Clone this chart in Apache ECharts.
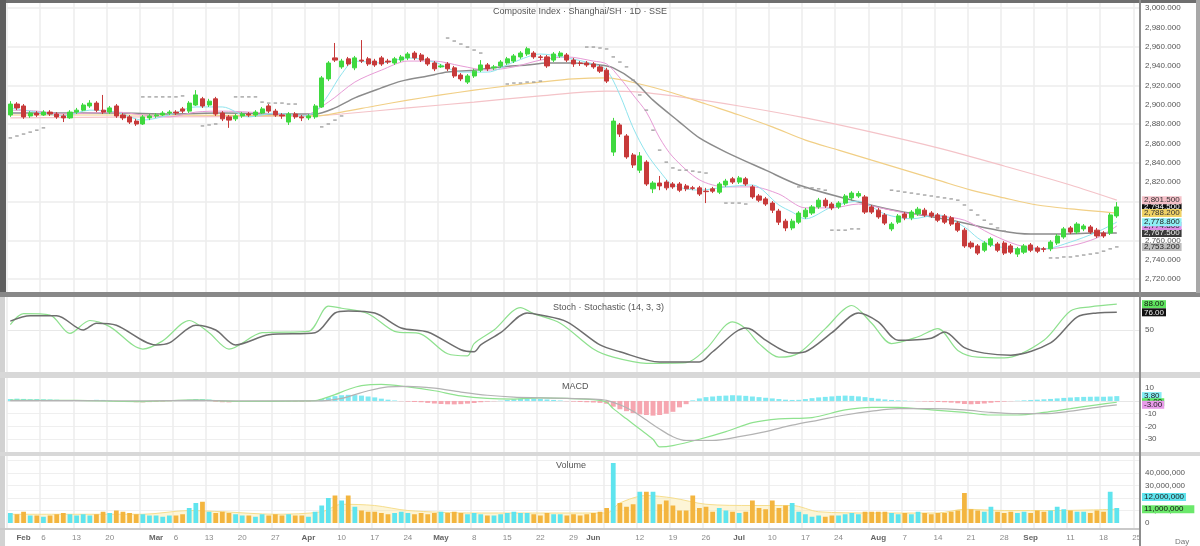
<!DOCTYPE html>
<html><head><meta charset="utf-8">
<script src="https://cdn.jsdelivr.net/npm/echarts@6/dist/echarts.min.js"></script>
<style>html,body{margin:0;padding:0;background:#fff}#c{width:1200px;height:546px}</style>
</head><body><div id="c"></div>
<script>
// ---------- data ----------
const START_DATE = '2023-01-30';
const EXTRA_SLOTS = 3;
const MONTHS = ['Jan','Feb','Mar','Apr','May','Jun','Jul','Aug','Sep','Oct','Nov','Dec'];

// [open, close, low, high]
const ohlc = [
[2889.5,2900.8,2887.5,2903.8],[2900.8,2896.8,2894.5,2902.8],[2898.8,2887.5,2885.5,2900.8],[2888.5,2891.5,2886.5,2893.5],
[2891.5,2889.5,2887.5,2893.5],[2889.5,2892.5,2888.5,2894.5],[2892.5,2890.5,2888.5,2894.5],[2890.5,2887.5,2885.5,2892.5],
[2888.5,2886.5,2882.2,2890.5],[2886.5,2892.5,2885.5,2894.5],[2892.5,2894.5,2890.5,2896.8],[2894.5,2899.8,2893.5,2901.8],
[2898.8,2901.8,2896.8,2904.8],[2901.8,2894.5,2892.5,2903.8],[2894.5,2892.5,2890.5,2910.2],[2892.5,2896.8,2890.5,2898.8],
[2898.8,2888.5,2886.5,2900.8],[2889.5,2886.5,2884.2,2891.5],[2887.5,2882.2,2880.2,2889.5],[2883.2,2880.2,2878.2,2885.5],
[2880.2,2887.5,2879.2,2889.5],[2886.5,2888.5,2884.2,2890.5],[2888.5,2889.5,2886.5,2891.5],[2889.5,2891.5,2888.5,2893.5],
[2891.5,2892.5,2889.5,2894.5],[2892.5,2891.5,2889.5,2894.5],[2895.8,2893.5,2891.5,2897.8],[2893.5,2901.8,2891.5,2903.8],
[2899.8,2910.2,2898.8,2915.2],[2906.2,2898.8,2896.8,2908.2],[2899.8,2903.8,2897.8,2906.2],[2906.2,2890.5,2888.5,2908.2],
[2891.5,2885.5,2883.2,2893.5],[2887.5,2884.2,2876.2,2889.5],[2885.5,2888.5,2883.2,2890.5],[2888.5,2890.5,2886.5,2892.5],
[2890.5,2889.5,2887.5,2892.5],[2889.5,2892.5,2887.5,2894.5],[2891.5,2895.8,2890.5,2897.8],[2898.8,2893.5,2891.5,2900.8],
[2893.5,2889.5,2887.5,2895.8],[2889.5,2888.5,2885.5,2891.5],[2882.2,2890.5,2879.2,2892.5],[2890.5,2887.5,2885.5,2892.5],
[2887.5,2886.5,2883.2,2889.5],[2886.5,2888.5,2884.2,2890.5],[2887.5,2898.8,2885.5,2900.8],[2897.8,2927.8,2896.8,2929.8],
[2926.8,2943.2,2924.5,2945.2],[2948.5,2946.2,2944.2,2963.9],[2939.2,2945.2,2937.2,2947.5],[2947.5,2942.2,2940.2,2949.5],
[2938.2,2948.5,2935.8,2950.5],[2946.2,2945.2,2943.2,2966.9],[2947.5,2942.2,2940.2,2949.5],[2945.2,2941.2,2939.2,2947.5],
[2948.5,2942.2,2940.2,2950.5],[2945.2,2944.2,2942.2,2947.5],[2943.2,2947.5,2941.2,2949.5],[2946.2,2949.5,2944.2,2951.5],
[2948.5,2952.5,2946.2,2954.5],[2953.5,2948.5,2946.2,2955.5],[2951.5,2946.2,2944.2,2953.5],[2947.5,2942.2,2940.2,2949.5],
[2943.2,2937.2,2934.8,2945.2],[2939.2,2940.2,2938.2,2942.2],[2942.2,2937.2,2934.8,2944.2],[2938.2,2929.8,2927.8,2940.2],
[2930.8,2926.8,2924.5,2932.8],[2923.5,2929.8,2921.5,2931.8],[2929.8,2934.8,2927.8,2937.2],[2935.8,2941.2,2933.8,2946.2],
[2941.2,2937.2,2934.8,2943.2],[2938.2,2939.2,2935.8,2941.2],[2940.2,2944.2,2938.2,2946.2],[2943.2,2947.5,2941.2,2949.5],
[2945.2,2950.5,2943.2,2952.5],[2949.5,2953.5,2947.5,2955.5],[2952.5,2957.9,2950.5,2959.9],[2953.5,2949.5,2947.5,2955.5],
[2949.5,2949.0,2946.2,2951.5],[2949.5,2940.2,2938.2,2951.5],[2946.2,2952.5,2944.2,2954.5],[2950.5,2953.5,2948.5,2955.5],
[2951.5,2946.2,2944.2,2953.5],[2946.2,2942.2,2939.2,2948.5],[2943.2,2942.7,2940.2,2945.2],[2943.2,2941.2,2939.2,2945.2],
[2942.2,2939.2,2937.2,2944.2],[2939.2,2934.8,2932.8,2941.2],[2935.8,2924.5,2922.5,2938.2],[2851.2,2883.2,2847.2,2886.5],
[2879.2,2869.8,2866.8,2881.2],[2867.8,2846.2,2844.2,2869.8],[2848.2,2837.8,2834.8,2850.2],[2832.5,2847.2,2829.5,2851.2],
[2840.8,2818.2,2816.2,2842.8],[2813.2,2819.2,2808.8,2821.2],[2819.2,2816.2,2811.8,2826.5],[2820.2,2814.2,2811.8,2822.2],
[2818.2,2815.2,2813.2,2820.2],[2818.2,2811.8,2809.8,2820.2],[2816.2,2813.2,2810.8,2818.2],[2814.2,2813.7,2811.8,2816.2],
[2814.2,2807.8,2805.8,2816.2],[2810.8,2810.3,2798.5,2814.2],[2813.2,2810.8,2808.8,2815.2],[2809.8,2818.2,2807.8,2820.2],
[2817.2,2821.2,2815.2,2823.5],[2823.5,2820.2,2818.2,2825.5],[2820.2,2824.5,2818.2,2826.5],[2823.5,2818.2,2816.2,2825.5],
[2815.2,2804.8,2802.8,2817.2],[2805.8,2801.5,2799.5,2807.8],[2802.8,2797.5,2795.5,2804.8],[2798.5,2791.2,2788.2,2800.5],
[2790.2,2778.8,2775.8,2792.5],[2779.8,2772.8,2769.5,2782.2],[2772.8,2779.8,2770.5,2782.2],[2778.8,2788.2,2776.8,2790.2],
[2784.2,2791.2,2782.2,2793.5],[2788.2,2794.5,2786.2,2796.5],[2794.5,2801.5,2792.5,2803.8],[2801.5,2795.5,2793.5,2803.8],
[2797.5,2793.5,2791.2,2799.5],[2794.5,2798.5,2792.5,2800.5],[2798.5,2805.8,2796.5,2807.8],[2803.8,2808.8,2801.5,2810.8],
[2805.8,2808.3,2803.8,2810.8],[2804.8,2789.2,2787.2,2806.8],[2794.5,2789.2,2787.2,2796.5],[2791.2,2784.2,2782.2,2793.5],
[2786.2,2777.8,2775.8,2788.2],[2771.8,2776.8,2769.5,2778.8],[2778.8,2785.2,2776.8,2787.2],[2787.2,2783.2,2780.8,2789.2],
[2783.2,2789.2,2780.8,2791.2],[2787.2,2792.2,2785.2,2794.5],[2791.2,2786.2,2784.2,2793.5],[2788.2,2785.2,2783.2,2790.2],
[2786.2,2780.8,2778.8,2788.2],[2785.2,2778.8,2776.8,2787.2],[2783.2,2776.8,2774.8,2785.2],[2777.8,2770.5,2768.5,2779.8],
[2770.5,2754.2,2752.2,2772.8],[2757.2,2753.2,2751.2,2759.2],[2754.2,2746.8,2744.8,2756.2],[2749.8,2757.2,2747.8,2759.2],
[2755.2,2761.5,2753.2,2763.5],[2756.2,2749.8,2747.8,2758.2],[2757.2,2746.8,2744.8,2759.2],[2754.2,2747.8,2745.8,2756.2],
[2745.8,2751.2,2742.8,2753.2],[2747.8,2754.2,2745.8,2756.2],[2755.2,2749.8,2747.8,2757.2],[2752.2,2748.8,2746.8,2754.2],
[2751.2,2750.7,2747.8,2753.2],[2751.2,2758.2,2748.8,2760.2],[2757.2,2764.5,2755.2,2766.5],[2763.5,2771.8,2761.5,2773.8],
[2772.8,2768.5,2766.5,2774.8],[2768.5,2776.8,2766.5,2778.8],[2771.8,2774.8,2769.5,2776.8],[2773.8,2768.5,2766.5,2775.8],
[2770.5,2764.5,2762.5,2772.8],[2767.5,2764.5,2762.5,2769.5],[2767.5,2786.2,2765.5,2788.2],[2785.2,2794.5,2783.2,2799.5]
];

// moving averages, read at knots [candle index, value]
const ma5 = [[0,2896.8],[4,2892.5],[8,2888.5],[12,2894.5],[16,2892.5],[20,2884.2],[24,2889.5],[28,2897.8],[32,2897.8],[36,2887.5],[40,2891.5],[44,2888.5],[46,2892.5],[48,2910.2],[50,2931.8],[52,2945.2],[56,2943.2],[60,2948.5],[64,2944.2],[68,2933.8],[72,2933.8],[76,2944.2],[80,2952.5],[84,2948.5],[88,2942.2],[90,2935.8],[92,2910.2],[94,2876.2],[96,2850.2],[98,2831.5],[100,2817.2],[104,2811.8],[108,2815.2],[112,2817.2],[116,2796.5],[118,2789.2],[120,2782.2],[124,2794.5],[128,2800.5],[132,2787.2],[136,2782.2],[140,2786.2],[144,2773.8],[146,2762.5],[148,2755.2],[152,2751.2],[156,2751.2],[160,2758.2],[164,2768.5],[167,2778.8]];
const ma10 = [[0,2894.5],[4,2893.5],[8,2890.5],[12,2891.5],[16,2892.5],[20,2889.5],[24,2887.5],[28,2892.5],[32,2893.5],[36,2892.5],[40,2890.5],[44,2888.5],[48,2902.8],[52,2923.5],[56,2935.8],[60,2945.2],[64,2945.2],[68,2940.2],[72,2935.8],[76,2939.2],[80,2946.2],[84,2949.5],[88,2945.2],[90,2942.2],[92,2927.8],[94,2910.2],[96,2892.5],[98,2865.8],[100,2846.2],[104,2822.5],[108,2815.2],[112,2815.2],[116,2807.8],[120,2793.5],[124,2793.5],[128,2797.5],[132,2792.5],[136,2787.2],[140,2785.2],[144,2780.8],[148,2766.5],[152,2755.2],[156,2751.2],[160,2754.2],[164,2762.5],[167,2774.8]];
const ma20 = [[0,2891.5],[8,2891.5],[16,2891.5],[24,2890.5],[32,2891.5],[40,2890.5],[46,2890.5],[49,2896.8],[52,2907.2],[56,2917.5],[59,2924.5],[63,2929.8],[66,2933.8],[70,2935.8],[74,2939.2],[78,2941.2],[81,2943.2],[85,2943.2],[89,2941.2],[91,2938.2],[94,2925.5],[97,2904.8],[101,2882.2],[104,2865.8],[108,2851.2],[114,2832.5],[119,2817.2],[127,2801.5],[134,2790.2],[142,2780.8],[149,2770.5],[154,2766.5],[159,2766.5],[164,2767.5],[167,2767.5]];
const ma50 = [[0,2889.5],[20,2889.5],[46,2888.5],[50,2892.5],[55,2898.8],[60,2904.8],[65,2910.2],[70,2915.2],[75,2919.5],[80,2923.5],[85,2926.8],[90,2927.8],[95,2921.5],[100,2912.2],[105,2900.8],[110,2889.5],[115,2877.2],[120,2863.5],[125,2853.2],[130,2842.8],[135,2832.5],[140,2822.2],[145,2811.8],[150,2803.8],[155,2796.5],[160,2792.5],[167,2788.2]];
const ma100 = [[0,2886.5],[20,2887.5],[46,2888.5],[50,2890.5],[60,2896.8],[70,2902.8],[80,2909.2],[90,2914.2],[95,2913.2],[100,2909.2],[110,2898.8],[120,2886.5],[130,2871.8],[140,2855.5],[150,2836.8],[160,2817.2],[167,2801.5]];

// parabolic SAR dots [candle index, value]
const sar = [[0,2865.8],[1,2867.8],[2,2869.8],[3,2871.8],[4,2873.8],[5,2876.2],
[20,2908.2],[21,2908.2],[22,2908.2],[23,2908.2],[24,2908.2],[25,2908.2],[26,2909.2],
[29,2878.2],[30,2879.2],[31,2880.2],[34,2908.2],[35,2908.2],[36,2908.2],[37,2908.2],
[38,2902.8],[39,2901.8],[40,2901.8],[41,2901.8],[42,2900.8],[43,2900.8],
[47,2877.2],[48,2880.2],[49,2884.2],[50,2888.5],
[66,2969.0],[67,2965.9],[68,2962.8],[69,2959.7],[70,2956.6],[71,2953.5],
[75,2921.5],[76,2922.5],[77,2922.5],[78,2923.5],[79,2923.5],[80,2924.5],
[87,2959.7],[88,2959.7],[89,2958.7],[90,2957.7],
[91,2949.5],[92,2944.2],[93,2939.2],[94,2925.5],[95,2910.2],[96,2894.5],[97,2873.8],[98,2853.2],[99,2840.8],[100,2834.8],[101,2832.5],[102,2832.5],[103,2831.5],[104,2830.5],[105,2829.5],
[108,2798.5],[109,2798.5],[110,2798.5],[111,2797.5],
[119,2815.2],[120,2814.2],[121,2814.2],[122,2813.2],[123,2811.8],
[124,2770.5],[125,2770.5],[126,2770.5],[127,2771.8],[128,2771.8],
[133,2811.8],[134,2810.8],[135,2809.8],[136,2808.8],[137,2807.8],[138,2806.8],[139,2805.8],[140,2804.8],[141,2803.8],[142,2802.8],[143,2801.5],
[144,2796.5],[145,2791.2],[146,2786.2],[147,2780.8],[148,2776.8],[149,2772.8],[150,2769.5],
[157,2741.8],[158,2741.8],[159,2742.8],[160,2742.8],[161,2743.8],[162,2744.8],[163,2745.8],[164,2746.8],[165,2748.8],[166,2751.2],[167,2753.2]];

// stochastic %K and %D, knots
const stochK = [[0,58],[2,74],[6,72],[9,45],[12,64],[15,55],[20,22],[23,34],[27,64],[30,46],[33,22],[38,46],[45,48],[48,85],[50,82],[54,74],[58,48],[62,44],[66,15],[69,12],[70,30],[73,50],[77,83],[79,74],[83,60],[88,22],[91,10],[96,1],[102,2],[105,22],[109,62],[111,52],[113,30],[116,10],[119,16],[123,52],[127,86],[130,60],[133,30],[137,40],[140,52],[143,20],[146,10],[150,9],[156,35],[160,78],[163,84],[167,88]];
const stochD = [[0,63],[3,71],[7,71],[11,50],[13,60],[16,57],[22,28],[24,31],[28,57],[31,50],[34,28],[39,43],[46,46],[49,75],[51,78],[55,75],[59,53],[63,47],[68,21],[70,18],[71,28],[74,46],[78,75],[80,72],[84,62],[89,28],[92,18],[98,3],[104,3],[106,18],[111,53],[112,50],[114,35],[118,16],[120,18],[124,46],[128,75],[131,62],[134,35],[139,38],[141,47],[144,24],[147,16],[151,13],[157,31],[161,69],[164,75],[167,76]];

// MACD line, signal line (knots) and histogram (per candle)
const macdLine = [[0,0.6],[10,0.4],[20,-0.5],[28,0.8],[34,-0.4],[46,0.2],[47,1.5],[49,5],[51,9],[53,12],[56,13],[60,11],[64,8],[68,4],[72,2],[76,1.5],[80,2.5],[84,2],[88,1],[90,-1],[91,-6],[93,-14],[95,-22],[97,-30],[98,-36],[100,-35],[104,-30],[108,-24],[112,-17],[116,-14],[121,-13],[126,-7],[130,-5],[134,-5],[139,-7],[144,-9],[148,-11],[152,-11],[156,-9],[160,-6],[164,-3],[167,-1]];
const macdSignal = [[0,0.3],[10,0.3],[20,0],[28,0.4],[34,0],[46,0],[48,0.5],[50,2],[52,5],[54,8],[57,11],[60,11.5],[64,10],[68,7],[72,4.5],[76,3],[80,2.5],[84,2],[88,1.5],[90,0.5],[92,-3],[94,-8],[96,-15],[98,-22],[100,-28],[102,-31],[106,-31],[110,-28],[114,-24],[118,-19],[122,-15],[126,-11],[130,-8],[134,-6],[139,-6],[144,-7],[148,-9],[152,-10],[156,-10],[160,-8],[164,-5],[167,-3]];
const macdHist = [1.5,1.8,1.6,1.4,1.5,1.3,1.2,1.0, 0.6,0.5,0.4,0.5,0.6,0.9,0.8, 0.3,-0.2,-0.4, -0.8,-1.0,-1.1,-0.9,-0.7,-0.5, -0.2,0.2,0.4, 1.0,1.5,1.4,1.1, -0.6,-1.0,-1.1,-0.8,
-0.5,-0.4,-0.3,-0.2,-0.3,-0.4,-0.5,-0.5,-0.6,-0.6,-0.4,0.2, 1.5,2.8,3.8,4.5,4.8,4.6,4.2,3.5,2.8, 1.8,1.0,0.4,-0.2,-0.5,-0.8,-1.0,
-1.5,-2.0,-2.4,-2.6,-2.7,-2.5,-2.1, -1.6,-1.0,-0.5,-0.2,0.2, 0.8,1.3,1.8,2.0,1.9,1.6,1.2, 0.8,0.4,-0.2,-0.5,-0.8,-1.0,-1.2,-1.5,-2.2,
-4.5,-6.5,-8.0,-9.5,-10.5,-11.0,-11.5,-11.0,-10.0, -8.5,-5.0,-2.5,0.5,2.0,3.0,3.5,4.0,4.2,4.5,4.3,4.0,3.5,3.0, 2.5,2.0,1.5,1.0,0.8,0.9,1.5,
2.2,2.8,3.2,3.6,4.0,4.2,4.0,3.6,3.0,2.4, 1.8,1.2,0.8,0.5,0.3,0.1,-0.2,-0.4,-0.6,-0.8,-1.0,-1.3, -1.8,-2.4,-2.6,-2.4,-2.0,
-1.4,-0.9,-0.5,-0.2,0.2,0.5,0.8,1.0,1.3,1.6, 2.0,2.4,2.7,3.0,3.2,3.3,3.4,3.3,3.5,3.8];

// volume in millions per candle, and its moving average (knots)
const volumeM = [8,7,9,6,6,5,6,7,8,7, 6,7,6,7,9,8,10,9,8,7, 7,6,6,5,6,6,7,12,16,17, 9,8,9,8,7,6,6,5,7,6, 7,6,7,6,6,5,9,
14,20,22,18,22,13,10,9,9, 8,7,8,9,8,7,8,7,8,9, 8,9,8,7,8,7,6,6,7,8, 9,8,8,7,6,8,7,7,6,7, 6,7,8,9,12,
48,16,13,15,25,25,25,15,18,14,10, 10,22,12,13,9,12,10,9,8,9, 18,12,11,18,12,14,16,9,7,5, 6,5,6,6,7,8,7,9,9,9,
9,8,7,8,7,9,8,7,8,8, 9,10,24,11,10,9,13,9,8,9, 8,9,8,10,9,10,13,11,10,9, 9,8,10,9,25,12];
const volumeMA = [[0,7],[20,7],[27,10],[32,9],[40,7],[47,9],[50,15],[55,14],[60,10],[70,8],[80,8],[90,8],[92,16],[96,22],[100,20],[105,15],[112,14],[118,14],[122,9],[130,8],[140,8],[144,11],[150,10],[158,10],[167,11]];

// ---------- categories ----------
const dates = [];
(function(){ let d = new Date(START_DATE + 'T00:00:00Z');
  while (dates.length < ohlc.length + EXTRA_SLOTS) {
    const wd = d.getUTCDay();
    if (wd !== 0 && wd !== 6) dates.push(d.toISOString().slice(0,10));
    d.setUTCDate(d.getUTCDate() + 1);
  }})();
const isMonthStart = dates.map((d,i) => i > 0 && d.slice(5,7) !== dates[i-1].slice(5,7));
const isMonday = dates.map(d => new Date(d + 'T00:00:00Z').getUTCDay() === 1);
const showLbl = dates.map((d,i) => {
  if (isMonthStart[i]) return true;
  if (!isMonday[i]) return false;
  for (let k = i-2; k <= i+2; k++) if (isMonthStart[k]) return false;
  return true;
});

// ---------- styling ----------
const FONT = 'Liberation Sans';
const UP = '#3fd93f', DOWN = '#c73a3a';
const C = {ma5:'#8fe4ee', ma10:'#e79bd6', ma20:'#8c8c8c', ma50:'#f1cf86', ma100:'#f4c3c8'};
const fmtPrice = v => v.toLocaleString('en-US',{minimumFractionDigits:3, maximumFractionDigits:3});
const fmtVol = v => (v*1e6).toLocaleString('en-US');
const last = a => a[a.length-1];
function tag(value, bg, fg, text, offsetY){
  return {silent:true, symbol:'none', animation:false,
    lineStyle:{color:'rgba(0,0,0,0)', width:0, opacity:1},
    label:{show:true, position:'end', distance:2, formatter:text, backgroundColor:bg, color:fg,
      fontSize:8, lineHeight:8, padding:[0,2], fontFamily:FONT, offset:[0, offsetY||0]},
    data:[{yAxis:value}]};
}
function knotLine(name, data, color, xi, width, extra){
  return Object.assign({name, type:'line', xAxisIndex:xi, yAxisIndex:xi, data, smooth:0.3,
    symbol:'none', lineStyle:{color, width:width||1}, z:3}, extra||{});
}
const grids = [
  {left:7, right:60, top:3, bottom:18},
  {left:7, right:60, top:3, height:295.4},
  {left:7, right:60, top:296, height:68},
  {left:7, right:60, top:378, height:74},
  {left:7, right:60, top:456, height:67}
];
const xAxes = grids.map((g,i) => i === 0 ? {
  type:'category', gridIndex:0, data:dates, boundaryGap:true,
  axisLine:{show:false}, axisTick:{show:false},
  axisLabel:{interval:(idx)=>showLbl[idx], fontSize:8, color:'#8a8a8a', margin:6, fontFamily:FONT,
    formatter:(v,idx)=> isMonthStart[idx] ? '{m|' + MONTHS[+v.slice(5,7)-1] + '}' : String(+v.slice(8,10)),
    rich:{m:{fontWeight:'bold', color:'#666', fontSize:8, fontFamily:FONT}}},
  splitLine:{show:true, interval:(idx)=>isMonday[idx], lineStyle:{color:'#ededed', width:1.5}}
} : {type:'category', gridIndex:i, data:dates, boundaryGap:true, show:false});

const axisLbl = (extra) => Object.assign({fontSize:8, color:'#555', fontFamily:FONT, margin:5}, extra);
const yAxes = [
  {type:'value', gridIndex:0, show:false},
  {type:'value', gridIndex:1, position:'right', min:2700, max:3005.2, interval:20,
    axisLine:{show:false}, axisTick:{show:false},
    axisLabel:axisLbl({formatter:fmtPrice, showMinLabel:false, showMaxLabel:false}),
    splitLine:{show:true, lineStyle:{color:['rgba(0,0,0,0)','#ececec'], width:1.5}}},
  {type:'value', gridIndex:2, position:'right', min:0, max:100, interval:50,
    axisLine:{show:false}, axisTick:{show:false},
    axisLabel:axisLbl({showMinLabel:false, showMaxLabel:false}),
    splitLine:{show:true, lineStyle:{color:['rgba(0,0,0,0)','#e8e8e8','rgba(0,0,0,0)']}}},
  {type:'value', gridIndex:3, position:'right', min:-40, max:18, interval:10,
    axisLine:{show:false}, axisTick:{show:false},
    axisLabel:axisLbl({showMinLabel:false, showMaxLabel:false}),
    splitLine:{show:true, lineStyle:{color:['rgba(0,0,0,0)','#efefef','#efefef','#efefef','#e6e6e6','rgba(0,0,0,0)','rgba(0,0,0,0)']}}},
  {type:'value', gridIndex:4, position:'right', min:0, max:53.6, interval:10,
    axisLine:{show:false}, axisTick:{show:false},
    axisLabel:axisLbl({showMaxLabel:false, formatter:v => v >= 50 ? '' : fmtVol(v)}),
    splitLine:{show:true, lineStyle:{color:['rgba(0,0,0,0)','#efefef','#efefef','#efefef','#efefef','#efefef','rgba(0,0,0,0)']}}}
];

const lastClose = last(ohlc)[1];
const series = [
  {name:'Price', type:'candlestick', xAxisIndex:1, yAxisIndex:1, data:ohlc, barWidth:'70%', z:5,
    itemStyle:{color:UP, color0:DOWN, borderColor:UP, borderColor0:DOWN, borderWidth:1},
    markLine:tag(lastClose, '#111', '#fff', fmtPrice(lastClose))},
  knotLine('MA100', ma100, C.ma100, 1, 1.2, {markLine:tag(last(ma100)[1], '#f4c0c8', '#333', fmtPrice(last(ma100)[1]))}),
  knotLine('MA50', ma50, C.ma50, 1, 1.2, {markLine:tag(last(ma50)[1], '#f0d266', '#333', fmtPrice(last(ma50)[1]))}),
  knotLine('MA20', ma20, C.ma20, 1, 1.5, {markLine:tag(last(ma20)[1], '#3a3a3a', '#eee', fmtPrice(last(ma20)[1]))}),
  knotLine('MA10', ma10, C.ma10, 1, 1, {markLine:tag(last(ma10)[1], '#dc8ee6', '#222', fmtPrice(last(ma10)[1]))}),
  knotLine('MA5', ma5, C.ma5, 1, 1, {markLine:tag(last(ma5)[1], '#8ff0f4', '#222', fmtPrice(last(ma5)[1]))}),
  {name:'SAR', type:'scatter', xAxisIndex:1, yAxisIndex:1, data:sar, symbol:'rect', symbolSize:[3.5,1.6],
    itemStyle:{color:'#9a9a9a'}, z:4,
    markLine:tag(last(sar)[1], '#bdbdbd', '#222', fmtPrice(last(sar)[1]))},
  knotLine('%K', stochK, '#8ee08e', 2, 1.2, {markLine:tag(last(stochK)[1], '#5fe35f', '#111', last(stochK)[1].toFixed(2))}),
  knotLine('%D', stochD, '#6e6e6e', 2, 1.5, {markLine:tag(last(stochD)[1], '#111', '#eee', last(stochD)[1].toFixed(2))}),
  {name:'Hist', type:'bar', xAxisIndex:3, yAxisIndex:3, barWidth:'75%', z:2,
    data:macdHist.map(v => ({value:v, itemStyle:{color: v >= 0 ? '#7fe9f2' : '#f6a6b0'}})),
    markLine:tag(last(macdHist), '#86ecf4', '#222', last(macdHist).toFixed(2))},
  knotLine('MACD', macdLine, '#8fe28f', 3, 1.2, {markLine:tag(last(macdLine)[1], '#5fe35f', '#111', last(macdLine)[1].toFixed(2))}),
  knotLine('Signal', macdSignal, '#b3b3b3', 3, 1.2, {markLine:tag(last(macdSignal)[1], '#e79be9', '#222', last(macdSignal)[1].toFixed(2))}),
  {name:'VolMA', type:'line', xAxisIndex:4, yAxisIndex:4, data:volumeMA, smooth:0.3, symbol:'none', z:1,
    lineStyle:{color:'#f6de8e', width:1}, areaStyle:{color:'rgba(251,230,150,0.55)'},
    markLine:tag(last(volumeMA)[1], '#6be86b', '#111', fmtVol(last(volumeMA)[1]) + '    ')},
  {name:'Volume', type:'bar', xAxisIndex:4, yAxisIndex:4, barWidth:'72%', z:2,
    data:volumeM.map((v,i) => ({value:v, itemStyle:{color: ohlc[i][1] >= ohlc[i][0] ? '#5fe4ee' : '#f3b53f'}})),
    markLine:tag(last(volumeM), '#5fe4ee', '#222', fmtVol(last(volumeM)), -11)}
];

const titleStyle = {fontSize:9, color:'#555', fontWeight:'normal', fontFamily:FONT};
const option = {
  animation:false,
  backgroundColor:'#ffffff',
  title:[
    {text:'Composite Index · Shanghai/SH · 1D · SSE', left:488, top:2, textStyle:titleStyle},
    {text:'Stoch · Stochastic (14, 3, 3)', left:548, top:298, textStyle:titleStyle},
    {text:'MACD', left:557, top:377, textStyle:titleStyle},
    {text:'Volume', left:551, top:456, textStyle:titleStyle},
    {text:'SH 1D', left:12, top:284, textStyle:{fontSize:7, color:'#fff', backgroundColor:'#777', padding:[1,3], fontFamily:FONT}},
    {text:'Day', left:1170, top:533, textStyle:{fontSize:8, color:'#777', fontWeight:'normal', fontFamily:FONT}}
  ],
  grid:grids, xAxis:xAxes, yAxis:yAxes, series,
  graphic:[
    {type:'rect', z:100, shape:{x:0,y:0,width:1200,height:3}, style:{fill:'#6f6f6f'}},
    {type:'rect', z:100, shape:{x:0,y:0,width:6,height:293}, style:{fill:'#5f5f5f'}},
    {type:'rect', z:100, shape:{x:0,y:293,width:5,height:253}, style:{fill:'#d2d2d2'}},
    {type:'rect', z:100, shape:{x:0,y:292,width:1200,height:5}, style:{fill:'#888888'}},
    {type:'rect', z:100, shape:{x:0,y:372,width:1200,height:6}, style:{fill:'#d8d8d8'}},
    {type:'rect', z:100, shape:{x:0,y:452,width:1200,height:4}, style:{fill:'#d8d8d8'}},
    {type:'rect', z:100, shape:{x:0,y:528,width:1140,height:2}, style:{fill:'#c9c9c9'}},
    {type:'rect', z:100, shape:{x:1139,y:0,width:2,height:546}, style:{fill:'#8d8d8d'}},
    {type:'rect', z:100, shape:{x:1196,y:0,width:4,height:293}, style:{fill:'#a8a8a8'}}
  ]
};
const chart = echarts.init(document.getElementById('c'), null, {renderer:'canvas'});
chart.setOption(option);
</script></body></html>
